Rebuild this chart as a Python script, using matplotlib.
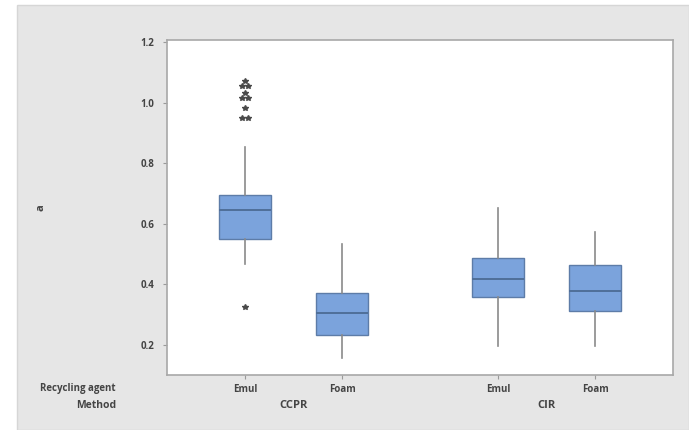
import matplotlib
matplotlib.use("Agg")
import matplotlib.pyplot as plt
from matplotlib.patches import Rectangle
from matplotlib.transforms import blended_transform_factory

# box statistics
agents = ["Emul", "Foam", "Emul", "Foam"]
methods = ["CCPR", "CIR"]
method_of_box = [0, 0, 1, 1]
whislo = [0.466, 0.155, 0.195, 0.195]
q1 = [0.549, 0.231, 0.357, 0.311]
med = [0.645, 0.304, 0.417, 0.377]
q3 = [0.694, 0.370, 0.486, 0.463]
whishi = [0.853, 0.532, 0.651, 0.572]
outliers = [
    [1.071, 1.055, 1.055, 1.031, 1.015, 1.015, 0.982, 0.949, 0.949, 0.324],
    [],
    [],
    [],
]
y_ticks = [0.2, 0.4, 0.6, 0.8, 1.0, 1.2]

positions = [1.0, 2.0, 3.6, 4.6]

plt.rcParams["font.family"] = ["Open Sans", "DejaVu Sans"]

fig = plt.figure(figsize=(6.89, 4.30), dpi=100)
fig.patch.set_facecolor("white")
panel = Rectangle((17 / 689, 0), 1 - 17 / 689, 1 - 5 / 430, transform=fig.transFigure,
                  facecolor="#e6e6e6", edgecolor="#d6d6d6", linewidth=1.0, zorder=-10)
fig.add_artist(panel)

ax = fig.add_axes([167 / 689, 1 - 375 / 430, 506 / 689, 335 / 430])
ax.set_zorder(1)
ax.set_facecolor("white")

stats = []
for i in range(len(agents)):
    stats.append({
        "whislo": whislo[i], "q1": q1[i], "med": med[i],
        "q3": q3[i], "whishi": whishi[i], "fliers": [],
    })

ax.bxp(
    stats, positions=positions, widths=0.53, patch_artist=True,
    showfliers=False, showcaps=False,
    boxprops=dict(facecolor="#7ba3dc", edgecolor="#5d7ca8", linewidth=1.0),
    medianprops=dict(color="#4f6f99", linewidth=1.4),
    whiskerprops=dict(color="#8a8a8a", linewidth=1.2),
)

# outliers, ties spread side by side like Minitab does
for pos, vals in zip(positions, outliers):
    counts = {}
    for v in vals:
        counts[v] = counts.get(v, 0) + 1
    for v, n in counts.items():
        for k in range(n):
            dx = (k - (n - 1) / 2) * 0.06
            ax.plot(pos + dx, v, marker="*", markersize=4, color="#4a4a4a",
                    linestyle="none", zorder=5)

ax.set_xlim(0.2, 5.4)
ax.set_ylim(0.10, 1.207)
ax.set_yticks(y_ticks)
ax.set_yticklabels([f"{t:.1f}" for t in y_ticks], fontsize=7, fontweight="bold",
                   color="#444444")
ax.set_xticks(positions)
ax.set_xticklabels([])
ax.tick_params(axis="both", length=3, color="#9a9a9a", width=0.8, pad=6)
for side in ["left", "bottom", "top", "right"]:
    ax.spines[side].set_color("#a8a8a8")
    ax.spines[side].set_linewidth(1.2)

ax.set_ylabel("a", fontsize=8, fontweight="bold", color="#444444", labelpad=0)
ax.yaxis.set_label_coords(-0.238, 0.5)

trans = blended_transform_factory(ax.transData, fig.transFigure)
y_agent = 1 - 389 / 430
y_method = 1 - 405 / 430
for pos, name in zip(positions, agents):
    ax.text(pos, y_agent, name, transform=trans, ha="center", va="center",
            fontsize=7, fontweight="bold", color="#444444", clip_on=False)
for m, name in enumerate(methods):
    xs = [p for p, mi in zip(positions, method_of_box) if mi == m]
    ax.text(sum(xs) / len(xs), y_method, name, transform=trans, ha="center",
            va="center", fontsize=8, fontweight="bold", color="#444444",
            clip_on=False)

fig.text(116 / 689, y_agent, "Recycling agent", ha="right", va="center",
         fontsize=7, fontweight="bold", color="#444444")
fig.text(116 / 689, y_method, "Method", ha="right", va="center",
         fontsize=7.5, fontweight="bold", color="#444444")

fig.savefig("out.png", dpi=100)
